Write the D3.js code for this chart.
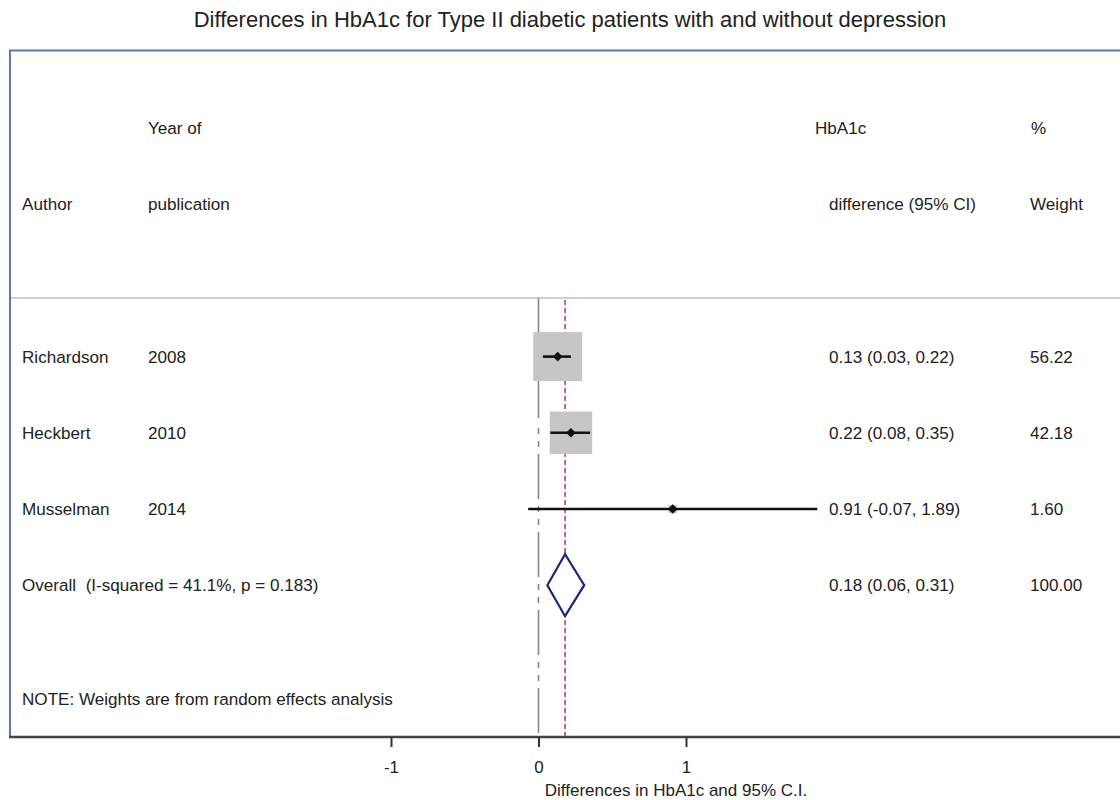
<!DOCTYPE html>
<html lang="en">
<head>
  <meta charset="UTF-8">
  <script src="https://cdn.jsdelivr.net/npm/d3@7"></script>
  <title>HbA1c forest plot</title>
  <style>
    body { margin: 0; background: #fff; }
    svg { font-family: "Liberation Sans", Arial, sans-serif; }
    .txt { font-size: 17.1px; fill: #222; white-space: pre; }
    .tick text { font-size: 17px; fill: #222; }
    .tick line { stroke: #333; stroke-width: 2; }
  </style>
</head>
<body>
<div id="chart"></div>
<script>
  // study data
  var authors = ["Richardson", "Heckbert", "Musselman"];
  var years = ["2008", "2010", "2014"];
  var est = [0.13, 0.22, 0.91];
  var lo = [0.03, 0.08, -0.07];
  var hi = [0.22, 0.35, 1.89];
  var weights = [56.22, 42.18, 1.60];

  var overall = [0.18, 0.06, 0.31];   // estimate, lower, upper
  var overallLabel = "Overall  (I-squared = 41.1%, p = 0.183)";

  var tickValues = [-1, 0, 1];
  var headers1 = ["Year of", "HbA1c", "%"];
  var headers2 = ["Author", "publication", "difference (95% CI)", "Weight"];

  var width = 1120, height = 800;
  var axisY = 737;

  var svg = d3.select("#chart").append("svg")
    .attr("width", width)
    .attr("height", height);

  var x = d3.scaleLinear().domain([0, 1]).range([538.5, 686]);
  // row index -> vertical centre
  var row = d3.scaleLinear().domain([0, 1]).range([128, 204.2]);

  // title
  svg.append("text")
    .attr("x", 570).attr("y", 27)
    .attr("text-anchor", "middle")
    .style("font-size", "22px").style("fill", "#222")
    .text("Differences in HbA1c for Type II diabetic patients with and without depression");

  // frame (left + top)
  svg.append("path")
    .attr("d", "M10," + axisY + "V50.5H" + width)
    .attr("fill", "none").attr("stroke", "#5b7aa3").attr("stroke-width", 2);

  // header separator
  svg.append("line")
    .attr("x1", 11).attr("x2", width).attr("y1", 298).attr("y2", 298)
    .attr("stroke", "#cfcfcf").attr("stroke-width", 2);

  var colX = [22, 148, 829, 1030];

  // headers
  var h1 = [colX[1], 815, 1031];
  headers1.forEach(function(t, i) {
    svg.append("text").attr("class", "txt")
      .attr("x", h1[i]).attr("y", row(0)).attr("dy", "0.35em").text(t);
  });
  headers2.forEach(function(t, i) {
    svg.append("text").attr("class", "txt")
      .attr("x", colX[i]).attr("y", row(1)).attr("dy", "0.35em").text(t);
  });

  // null line at 0: solid at top, broken lower down
  svg.append("line")
    .attr("x1", x(0)).attr("x2", x(0)).attr("y1", 298).attr("y2", 418)
    .attr("stroke", "#888").attr("stroke-width", 1.6);
  svg.append("line")
    .attr("x1", x(0)).attr("x2", x(0)).attr("y1", 428).attr("y2", axisY)
    .attr("stroke", "#888").attr("stroke-width", 1.6)
    .attr("stroke-dasharray", "6,7,6,7,45,7");

  // overall effect line
  svg.append("line")
    .attr("x1", x(overall[0])).attr("x2", x(overall[0]))
    .attr("y1", 300).attr("y2", axisY)
    .attr("stroke", "#b5485a").attr("stroke-width", 1.6)
    .attr("stroke-dasharray", "5,3");

  // weight boxes: area proportional to weight
  var side = d3.scaleSqrt().domain([0, 100]).range([0, 65.3]);

  var data = authors.map(function(a, i) {
    return { author: a, year: years[i], est: est[i], lo: lo[i], hi: hi[i], w: weights[i], y: row(3 + i) };
  });

  var g = svg.append("g");

  g.selectAll(".box")
    .data(data)
    .enter().append("rect")
    .attr("class", "box")
    .attr("x", function(d) { return x(d.est) - side(d.w) / 2; })
    .attr("y", function(d) { return d.y - side(d.w) / 2; })
    .attr("width", function(d) { return side(d.w); })
    .attr("height", function(d) { return side(d.w); })
    .attr("fill", "#c6c6c6");

  g.selectAll(".ci")
    .data(data)
    .enter().append("line")
    .attr("class", "ci")
    .attr("x1", function(d) { return x(d.lo); })
    .attr("x2", function(d) { return x(d.hi); })
    .attr("y1", function(d) { return d.y; })
    .attr("y2", function(d) { return d.y; })
    .attr("stroke", "#111").attr("stroke-width", 2.6);

  g.selectAll(".pt")
    .data(data)
    .enter().append("path")
    .attr("class", "pt")
    .attr("transform", function(d) { return "translate(" + x(d.est) + "," + d.y + ") rotate(45)"; })
    .attr("d", "M-3.4,-3.4H3.4V3.4H-3.4Z")
    .attr("fill", "#111");

  // text columns
  data.forEach(function(d) {
    var cols = [d.author, d.year,
      d.est.toFixed(2) + " (" + d.lo.toFixed(2) + ", " + d.hi.toFixed(2) + ")",
      d.w.toFixed(2)];
    cols.forEach(function(t, j) {
      svg.append("text").attr("class", "txt")
        .attr("x", colX[j]).attr("y", d.y).attr("dy", "0.35em").text(t);
    });
  });

  // overall diamond
  var oy = row(6);
  svg.append("path")
    .attr("d", "M" + x(overall[1]) + "," + oy +
      "L" + x(overall[0]) + "," + (oy - 31) +
      "L" + x(overall[2]) + "," + oy +
      "L" + x(overall[0]) + "," + (oy + 31) + "Z")
    .attr("fill", "#fff").attr("stroke", "#1f237a").attr("stroke-width", 2.2);

  svg.append("text").attr("class", "txt")
    .attr("x", colX[0]).attr("y", oy).attr("dy", "0.35em").text(overallLabel);
  svg.append("text").attr("class", "txt")
    .attr("x", colX[2]).attr("y", oy).attr("dy", "0.35em")
    .text(overall[0].toFixed(2) + " (" + overall[1].toFixed(2) + ", " + overall[2].toFixed(2) + ")");
  svg.append("text").attr("class", "txt")
    .attr("x", colX[3]).attr("y", oy).attr("dy", "0.35em").text("100.00");

  svg.append("text").attr("class", "txt")
    .attr("x", colX[0]).attr("y", 699).attr("dy", "0.35em")
    .text("NOTE: Weights are from random effects analysis");

  // x axis
  svg.append("line")
    .attr("x1", 9).attr("x2", width).attr("y1", axisY).attr("y2", axisY)
    .attr("stroke", "#444").attr("stroke-width", 2.5);

  var axis = svg.append("g")
    .attr("transform", "translate(0," + axisY + ")")
    .call(d3.axisBottom(x).tickValues(tickValues).tickSize(10).tickPadding(14)
      .tickFormat(function(d) { return String(d); }));
  axis.select(".domain").remove();

  svg.append("text")
    .attr("x", 676).attr("y", 796)
    .attr("text-anchor", "middle")
    .style("font-size", "17px").style("fill", "#222")
    .text("Differences in HbA1c and 95% C.I.");
</script>
</body>
</html>
